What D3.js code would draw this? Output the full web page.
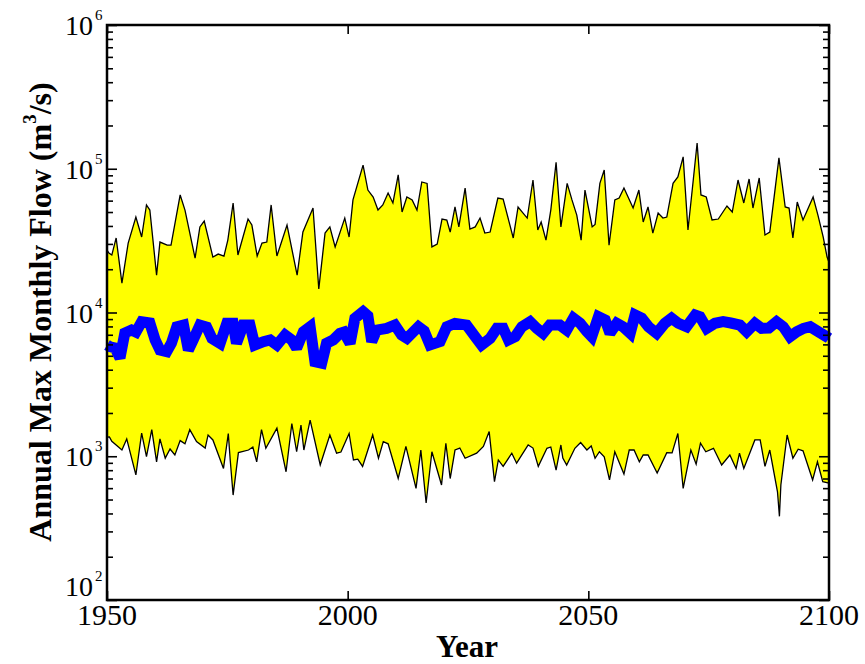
<!DOCTYPE html>
<html>
<head>
<meta charset="utf-8">
<script src="https://cdn.jsdelivr.net/npm/d3@7"></script>
<style>
  body { margin: 0; background: #fff; }
</style>
</head>
<body>
<div id="chart"></div>
<script>
// upper envelope of the ensemble
var upperYears = [1950.0, 1950.4, 1951.0, 1951.9, 1953.1, 1954.4, 1956.0, 1957.2, 1958.2, 1958.9, 1960.3, 1961.0, 1962.5, 1963.3, 1965.2, 1966.2, 1968.3, 1969.3, 1970.2, 1972.0, 1973.1, 1974.3, 1975.1, 1976.2, 1977.2, 1979.3, 1980.1, 1981.2, 1982.2, 1983.2, 1984.1, 1985.3, 1987.4, 1989.5, 1990.7, 1992.8, 1994.0, 1995.3, 1996.3, 1997.4, 1999.4, 2000.3, 2001.1, 2003.2, 2004.2, 2005.3, 2006.3, 2007.3, 2008.4, 2009.4, 2010.5, 2011.3, 2012.3, 2013.4, 2014.4, 2015.4, 2016.5, 2017.5, 2018.6, 2019.6, 2020.6, 2021.3, 2022.3, 2023.1, 2024.4, 2025.4, 2026.5, 2027.5, 2028.5, 2029.6, 2031.2, 2032.3, 2034.4, 2035.4, 2037.3, 2038.5, 2039.5, 2040.2, 2041.2, 2042.2, 2043.3, 2044.3, 2045.6, 2046.6, 2047.6, 2048.5, 2049.3, 2050.8, 2051.4, 2052.4, 2053.3, 2054.3, 2055.5, 2056.4, 2057.4, 2059.3, 2060.5, 2061.4, 2062.4, 2063.4, 2064.5, 2065.5, 2066.3, 2067.6, 2068.6, 2069.7, 2070.7, 2071.8, 2072.6, 2073.4, 2074.5, 2075.7, 2077.0, 2078.8, 2079.9, 2081.1, 2082.3, 2083.4, 2084.2, 2085.5, 2086.7, 2087.7, 2089.6, 2090.9, 2091.7, 2092.5, 2093.4, 2094.6, 2096.7, 2097.7, 2098.8, 2099.6, 2100.0]
var upperFlow = [27200, 25900, 25100, 33000, 16000, 30400, 46100, 33500, 56000, 51600, 18200, 30900, 29400, 29400, 65700, 51600, 23900, 39400, 43300, 24300, 25500, 24700, 31900, 57800, 25100, 44700, 40600, 24700, 30400, 30900, 56000, 24700, 40600, 18200, 36300, 53300, 14600, 35700, 39400, 28600, 45400, 33500, 60700, 106000, 71100, 63600, 51600, 56000, 67800, 57800, 90600, 50000, 63600, 60700, 51600, 80900, 79100, 28600, 29900, 44700, 44000, 36300, 54200, 39400, 73400, 38100, 39400, 45400, 35700, 36300, 62500, 61600, 33000, 54200, 45400, 83500, 37500, 42600, 31900, 51600, 111000, 39400, 79100, 60700, 47600, 31900, 71100, 39400, 41000, 79100, 98000, 29400, 60700, 62500, 73400, 53300, 71100, 42600, 54200, 35700, 49200, 45400, 46100, 79100, 87700, 121000, 37500, 83500, 151000, 65700, 63600, 44000, 44700, 55100, 50000, 83500, 57800, 84900, 53300, 86300, 34600, 36300, 119000, 54200, 53300, 33000, 58700, 44000, 63600, 47600, 33500, 24300, 22400]

// lower envelope of the ensemble
var lowerYears = [1950.0, 1950.5, 1951.0, 1953.1, 1954.1, 1956.0, 1957.2, 1958.2, 1959.3, 1960.3, 1961.0, 1962.1, 1963.1, 1964.1, 1965.2, 1966.2, 1967.2, 1968.6, 1970.4, 1971.0, 1972.0, 1974.2, 1975.2, 1975.6, 1976.2, 1977.3, 1979.4, 1980.3, 1981.1, 1982.1, 1983.0, 1985.3, 1987.2, 1988.4, 1989.4, 1990.3, 1990.9, 1992.2, 1994.3, 1996.3, 1997.7, 1998.6, 2000.3, 2001.2, 2002.1, 2003.1, 2005.2, 2006.4, 2007.4, 2008.4, 2010.5, 2012.1, 2014.2, 2015.2, 2016.3, 2017.5, 2019.5, 2020.4, 2021.3, 2022.3, 2023.3, 2024.4, 2026.8, 2028.2, 2029.4, 2030.5, 2031.3, 2032.3, 2034.1, 2035.1, 2037.5, 2038.5, 2039.6, 2041.4, 2042.2, 2043.3, 2044.3, 2044.7, 2045.5, 2047.2, 2048.4, 2049.7, 2050.6, 2051.4, 2052.3, 2053.3, 2054.4, 2055.5, 2057.4, 2058.5, 2059.5, 2060.6, 2061.4, 2062.4, 2064.3, 2066.3, 2067.4, 2068.6, 2069.7, 2071.3, 2072.4, 2073.3, 2074.4, 2076.0, 2077.7, 2079.4, 2080.7, 2081.4, 2082.3, 2084.6, 2085.7, 2086.7, 2087.7, 2089.3, 2089.7, 2090.0, 2091.3, 2092.5, 2093.6, 2094.6, 2096.6, 2097.6, 2098.7, 2100.0]
var lowerFlow = [1360, 1365, 1270, 1105, 1320, 741, 1450, 995, 1530, 914, 1320, 970, 1123, 1020, 1285, 1220, 1530, 1265, 1140, 1406, 1298, 823, 1440, 942, 537, 1060, 1105, 1160, 914, 1530, 1136, 1570, 780, 1690, 1075, 1648, 1105, 1786, 869, 1406, 1050, 1070, 1440, 942, 955, 850, 1406, 968, 1265, 1220, 700, 1170, 597, 1105, 473, 1075, 631, 1232, 700, 1105, 1140, 968, 1050, 1170, 1485, 666, 942, 850, 1050, 895, 1198, 1140, 850, 1136, 1160, 802, 1198, 970, 869, 1136, 1245, 1105, 1180, 968, 1075, 990, 684, 1075, 752, 1105, 1105, 914, 1020, 1020, 764, 1060, 1055, 1440, 597, 1105, 880, 1232, 1075, 1136, 869, 1020, 823, 1050, 823, 1298, 1298, 850, 1105, 565, 382, 631, 1406, 968, 1120, 1090, 684, 914, 666, 650]

// ensemble median (blue)
var medianYears = [1950.0, 1950.6, 1951.7, 1952.7, 1953.7, 1955.1, 1956.0, 1957.2, 1958.9, 1960.0, 1961.0, 1962.4, 1963.4, 1964.5, 1965.9, 1966.9, 1967.9, 1969.3, 1970.7, 1971.8, 1973.5, 1974.9, 1976.2, 1976.9, 1978.3, 1979.7, 1980.7, 1982.5, 1983.9, 1985.3, 1987.0, 1988.4, 1989.4, 1990.8, 1992.2, 1993.2, 1994.6, 1995.6, 1997.0, 1998.4, 1999.2, 2000.5, 2001.5, 2003.2, 2004.2, 2005.0, 2006.0, 2008.1, 2009.8, 2011.2, 2012.3, 2014.7, 2015.9, 2017.1, 2019.2, 2020.6, 2022.3, 2024.7, 2026.5, 2027.8, 2029.6, 2031.0, 2032.3, 2033.4, 2034.8, 2036.2, 2037.9, 2039.3, 2040.6, 2042.0, 2044.1, 2045.5, 2046.9, 2048.3, 2049.7, 2050.7, 2052.1, 2053.5, 2054.5, 2055.9, 2057.2, 2058.7, 2059.7, 2061.1, 2062.5, 2064.2, 2065.9, 2067.3, 2068.7, 2070.4, 2072.2, 2073.2, 2074.6, 2076.3, 2078.0, 2079.6, 2081.5, 2082.9, 2084.6, 2086.0, 2087.5, 2089.1, 2090.5, 2091.9, 2093.3, 2094.7, 2096.1, 2097.8, 2099.5, 2100.0]
var medianFlow = [5940, 5780, 5660, 4820, 7200, 7550, 7310, 8630, 8450, 6440, 5480, 5340, 6130, 7960, 8185, 5480, 6440, 8185, 7930, 6610, 6100, 8410, 8410, 6100, 8185, 8185, 5940, 6270, 6440, 5940, 6970, 6440, 5640, 7350, 7960, 4550, 4440, 6100, 6440, 7170, 7310, 6100, 9120, 10140, 9470, 6270, 7550, 7760, 8185, 6970, 6610, 7960, 7430, 5940, 6270, 7960, 8410, 8185, 6790, 5940, 6610, 7760, 7760, 6440, 6790, 7960, 8630, 7760, 7170, 8185, 8185, 7550, 9120, 8410, 7350, 6790, 9350, 8870, 7170, 8410, 7960, 7170, 9610, 9120, 7960, 7170, 8410, 9120, 8410, 7960, 9610, 9350, 7760, 8410, 8630, 8450, 8185, 7350, 8410, 7760, 7800, 8630, 7960, 6790, 7350, 7760, 7960, 7350, 6790, 6610]

var xTicks = [1950, 2000, 2050, 2100]
var yExponents = [2, 3, 4, 5, 6]

const width = 865
const height = 664
const margin = { left: 107, right: 829, top: 25, bottom: 600 }
const serif = '"Liberation Serif", "DejaVu Serif", serif'

var svg = d3.select('#chart')
  .append('svg')
  .attr('width', width)
  .attr('height', height)

var x = d3.scaleLinear().domain([1950, 2100]).range([margin.left, margin.right])
var y = d3.scaleLog().domain([100, 1e6]).range([margin.bottom, margin.top])

function pts(years, vals) {
  return years.map(function (yr, i) { return [x(yr), y(vals[i])] })
}
var upperPts = pts(upperYears, upperFlow)
var lowerPts = pts(lowerYears, lowerFlow)
var medianPts = pts(medianYears, medianFlow)

var line = d3.line()

// yellow band between the envelopes
svg.append('path')
  .attr('d', line(upperPts.concat(lowerPts.slice().reverse())) + 'Z')
  .attr('fill', '#ffff00')
  .attr('stroke', 'none')

svg.append('path')
  .attr('d', line(upperPts))
  .attr('fill', 'none')
  .attr('stroke', '#000')
  .attr('stroke-width', 1.3)

svg.append('path')
  .attr('d', line(lowerPts))
  .attr('fill', 'none')
  .attr('stroke', '#000')
  .attr('stroke-width', 1.3)

// thick blue median
svg.append('path')
  .attr('d', line(medianPts))
  .attr('fill', 'none')
  .attr('stroke', '#0000ff')
  .attr('stroke-width', 11)
  .attr('stroke-linejoin', 'miter')
  .attr('stroke-miterlimit', 2)

// log minor/major tick values
var minors = []
for (var e = 2; e < 6; e++) {
  for (var m = 2; m <= 9; m++) minors.push(m * Math.pow(10, e))
}
var majors = yExponents.map(function (p) { return Math.pow(10, p) })

function addAxis(gen, tx, ty) {
  var g = svg.append('g').attr('transform', 'translate(' + tx + ',' + ty + ')').call(gen)
  g.select('.domain').remove()
  g.selectAll('line').attr('stroke', '#000').attr('stroke-width', 1.6)
  return g
}

addAxis(d3.axisLeft(y).tickValues(minors).tickSize(-6).tickFormat(''), margin.left, 0)
addAxis(d3.axisLeft(y).tickValues(majors).tickSize(-10).tickFormat(''), margin.left, 0)
addAxis(d3.axisRight(y).tickValues(minors).tickSize(-6).tickFormat(''), margin.right, 0)
addAxis(d3.axisRight(y).tickValues(majors).tickSize(-10).tickFormat(''), margin.right, 0)
addAxis(d3.axisBottom(x).tickValues(xTicks).tickSize(-9).tickFormat(''), 0, margin.bottom)
addAxis(d3.axisTop(x).tickValues(xTicks).tickSize(-9).tickFormat(''), 0, margin.top)

// frame
svg.append('rect')
  .attr('x', margin.left)
  .attr('y', margin.top)
  .attr('width', margin.right - margin.left)
  .attr('height', margin.bottom - margin.top)
  .attr('fill', 'none')
  .attr('stroke', '#000')
  .attr('stroke-width', 2.5)

// x tick labels
svg.selectAll('.xlab')
  .data(xTicks)
  .enter()
  .append('text')
  .attr('x', function (d) { return x(d) })
  .attr('y', 625)
  .attr('text-anchor', 'middle')
  .style('font-family', serif)
  .style('font-size', '30px')
  .text(function (d) { return d })

// y tick labels: 10 with superscript exponent
yExponents.forEach(function (p) {
  var ty = y(Math.pow(10, p))
  svg.append('text')
    .attr('x', 93)
    .attr('y', p === 2 ? ty - 4 : ty + 10)
    .attr('text-anchor', 'end')
    .style('font-family', serif)
    .style('font-size', '28px')
    .text('10')
  svg.append('text')
    .attr('x', 95)
    .attr('y', p === 2 ? ty - 19 : ty - 5)
    .style('font-family', serif)
    .style('font-size', '15px')
    .text(p)
})

// axis titles
svg.append('text')
  .attr('x', 467)
  .attr('y', 657)
  .attr('text-anchor', 'middle')
  .style('font-family', serif)
  .style('font-size', '31px')
  .style('font-weight', 'bold')
  .text('Year')

var yt = svg.append('text')
  .attr('transform', 'translate(51,312) rotate(-90)')
  .attr('text-anchor', 'middle')
  .style('font-family', serif)
  .style('font-size', '32px')
  .style('font-weight', 'bold')
yt.append('tspan').text('Annual Max Monthly Flow (m')
yt.append('tspan').attr('dy', -15).style('font-size', '19px').text('3')
yt.append('tspan').attr('dy', 15).text('/s)')
</script>
</body>
</html>
